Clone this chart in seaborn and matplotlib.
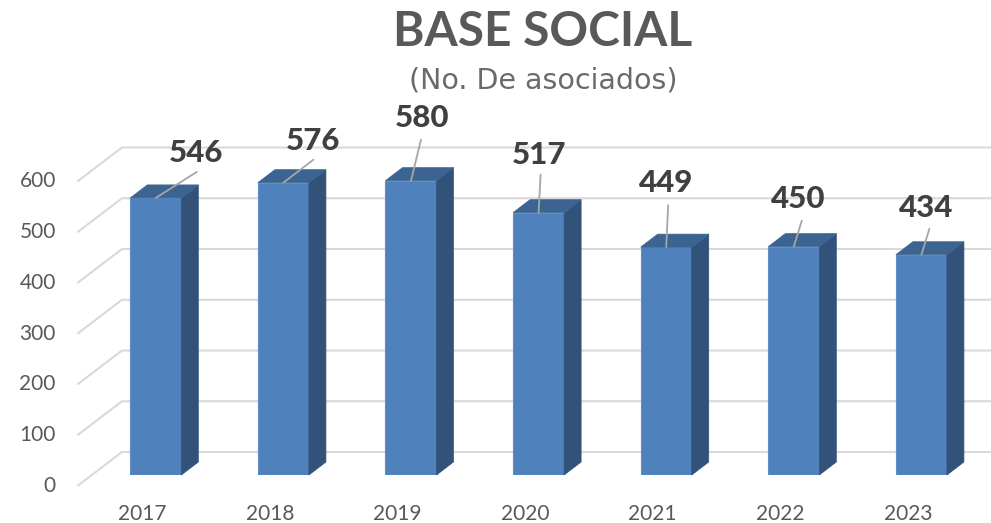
import matplotlib
matplotlib.use('Agg')
import matplotlib.pyplot as plt
import seaborn as sns
import pandas as pd
from matplotlib.patches import Polygon
from matplotlib.transforms import ScaledTranslation

years = ['2017', '2018', '2019', '2020', '2021', '2022', '2023']
asociados = [546, 576, 580, 517, 449, 450, 434]
y_ticks = [0, 100, 200, 300, 400, 500, 600]

# where the labels sit relative to the top of each bar, in pixels
label_offset = [(40, 45), (30, 42), (11, 63), (0, 58), (0, 64), (4, 48), (5, 47)]
leader_end = [(41, 26), (30, 23), (10, 41), (2, 38), (2, 42), (8, 26), (8, 26)]

df = pd.DataFrame({'year': years, 'asociados': asociados})

sns.set_style('white')
plt.rcParams['font.family'] = ['Lato', 'DejaVu Sans']

W, H = 991, 523
fig = plt.figure(figsize=(W / 100, H / 100), dpi=100)
ax = fig.add_axes([78 / W, (H - 475) / H, (W - 78) / W, 304.5 / H])

sns.barplot(data=df, x='year', y='asociados', color='#4F81BD', saturation=1,
            width=0.40, edgecolor='#5F90CC', linewidth=0.8, ax=ax, zorder=3)

# pixels per category and per unit, fake 3d depth goes through these
px_x = 127.6
px_y = 304.5 / 600
ax.set_xlim((78 - 155.8) / px_x, (W - 155.8) / px_x)
ax.set_ylim(0, 600)
sns.despine(ax=ax, left=True, bottom=True)
ax.set_xlabel('')
ax.set_ylabel('')

# back wall grid and the floor lines going to the front
wall_x = (122 - 155.8) / px_x
front_x = ax.get_xlim()[0]
wall_up = 23 / px_y
front_down = 10.5 / px_y
for v in y_ticks:
    ax.plot([front_x, wall_x, ax.get_xlim()[1]],
            [v - front_down, v + wall_up, v + wall_up],
            color='#D9D9D9', lw=1.5, clip_on=False, zorder=1)

# side and top faces of the bars
dx = 17 / px_x
dy = 13 / px_y
for bar in ax.patches[:len(years)]:
    x0 = bar.get_x()
    x1 = x0 + bar.get_width()
    top = bar.get_height()
    side = [(x1, 0), (x1 + dx, dy), (x1 + dx, top + dy), (x1, top)]
    roof = [(x0, top), (x0 + dx, top + dy), (x1 + dx, top + dy), (x1, top)]
    ax.add_patch(Polygon(side, closed=True, fc='#32527A', ec='#32527A', lw=0.5,
                         clip_on=False, zorder=3))
    ax.add_patch(Polygon(roof, closed=True, fc='#3C6491', ec='#3C6491', lw=0.5,
                         clip_on=False, zorder=3))

# value labels with their leader lines
for i, v in enumerate(asociados):
    ax.annotate('', xy=(i, v), xytext=leader_end[i], textcoords='offset pixels',
                arrowprops=dict(arrowstyle='-', color='#A6A6A6', lw=1.3,
                                shrinkA=0, shrinkB=0), zorder=4)
    ax.annotate(str(v), xy=(i, v), xytext=label_offset[i], textcoords='offset pixels',
                ha='center', va='center', fontsize=22.5, fontweight='black',
                color='#404040', zorder=5, annotation_clip=False)

ax.set_yticks(y_ticks)
ax.tick_params(axis='y', length=0, pad=16, labelsize=15, labelcolor='#595959')
ax.tick_params(axis='x', length=0, pad=21, labelsize=15, labelcolor='#595959')
shift_y = ScaledTranslation(0, -9 / 100, fig.dpi_scale_trans)
shift_x = ScaledTranslation(-13.5 / 100, 0, fig.dpi_scale_trans)
for lab in ax.get_yticklabels():
    lab.set_transform(lab.get_transform() + shift_y)
for lab in ax.get_xticklabels():
    lab.set_transform(lab.get_transform() + shift_x)

fig.text(542.5 / W, 1 - 32 / H, 'BASE SOCIAL', ha='center', va='center',
         fontsize=34.5, fontweight='bold', color='#595959')
fig.text(543 / W, 1 - 80 / H, '(No. De asociados)', ha='center', va='center',
         fontsize=20.5, color='#6A6A6A', family=['DejaVu Sans'])

fig.savefig('out.png', dpi=100)
